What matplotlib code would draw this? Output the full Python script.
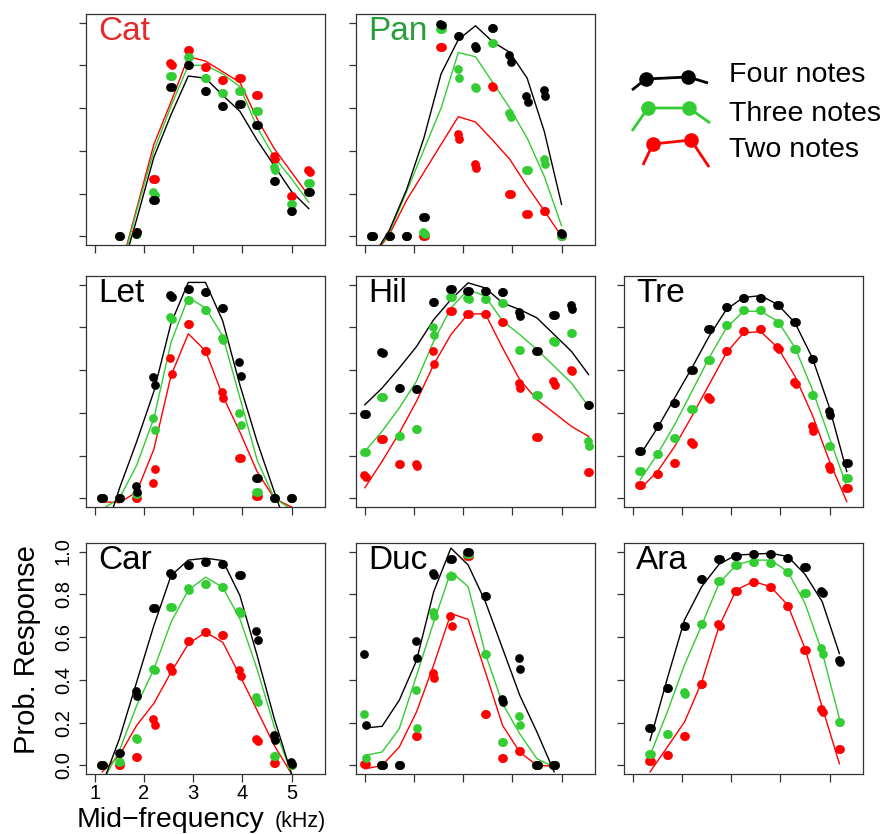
import numpy as np
import matplotlib.pyplot as plt

plt.rcParams['font.family'] = ['Liberation Sans', 'DejaVu Sans']

# ---- data (prob. response per mid-frequency, kHz) ----
# two replicate dots per frequency (a, b) + fitted curve for each note count
# k = four notes (black), g = three notes (green), r = two notes (red)

cat_freq = [1.5, 1.85, 2.2, 2.55, 2.9, 3.25, 3.6, 3.95, 4.3, 4.65, 5.0, 5.35]
cat_k_a = [0.00, 0.01, 0.17, 0.70, 0.80, 0.68, 0.61, 0.62, 0.52, 0.26, 0.12, 0.21]
cat_k_b = [0.00, 0.02, 0.17, 0.70, 0.80, 0.68, 0.61, 0.62, 0.52, 0.26, 0.12, 0.21]
cat_g_a = [0.00, 0.01, 0.21, 0.75, 0.84, 0.74, 0.67, 0.68, 0.585, 0.325, 0.15, 0.25]
cat_g_b = [0.00, 0.01, 0.195, 0.75, 0.84, 0.74, 0.67, 0.68, 0.585, 0.31, 0.15, 0.25]
cat_r_a = [0.00, 0.02, 0.27, 0.81, 0.87, 0.79, 0.73, 0.74, 0.66, 0.375, 0.19, 0.31]
cat_r_b = [0.00, 0.02, 0.27, 0.80, 0.87, 0.79, 0.73, 0.74, 0.66, 0.36, 0.19, 0.30]
cat_k_fit = [-0.20, 0.08, 0.37, 0.57, 0.75, 0.74, 0.66, 0.585, 0.45, 0.33, 0.21, 0.13]
cat_g_fit = [-0.18, 0.12, 0.40, 0.61, 0.80, 0.80, 0.76, 0.70, 0.51, 0.37, 0.27, 0.16]
cat_r_fit = [-0.17, 0.13, 0.43, 0.63, 0.84, 0.82, 0.77, 0.72, 0.55, 0.41, 0.30, 0.19]

pan_freq = [1.15, 1.5, 1.85, 2.2, 2.55, 2.9, 3.25, 3.6, 3.95, 4.3, 4.65, 5.0]
pan_k_a = [0, 0, 0, 0.09, 0.995, 0.936, 0.89, 0.975, 0.847, 0.655, 0.683, 0.016]
pan_k_b = [0, 0, 0, 0.09, 0.99, 0.936, 0.88, 0.975, 0.816, 0.63, 0.655, 0.01]
pan_g_a = [0, 0, 0, 0.02, 0.97, 0.785, 0.70, 0.905, 0.577, 0.31, 0.363, 0.0]
pan_g_b = [0, 0, 0, 0.01, 0.97, 0.74, 0.694, 0.905, 0.56, 0.31, 0.34, 0.0]
pan_r_a = [0, 0, 0, 0, 0.886, 0.48, 0.34, 0.705, 0.20, 0.105, 0.12, 0]
pan_r_b = [0, 0, 0, 0, 0.886, 0.457, 0.32, 0.70, 0.20, 0.105, 0.12, 0]
pan_k_fit = [-0.10, 0.03, 0.22, 0.46, 0.76, 0.92, 0.985, 0.91, 0.86, 0.74, 0.49, 0.15]
pan_g_fit = [-0.10, 0.02, 0.21, 0.405, 0.60, 0.86, 0.84, 0.72, 0.60, 0.46, 0.28, 0.05]
pan_r_fit = [-0.10, 0.01, 0.17, 0.30, 0.43, 0.56, 0.535, 0.45, 0.36, 0.235, 0.12, 0.0]

let_freq = [1.15, 1.5, 1.85, 2.2, 2.55, 2.9, 3.25, 3.6, 3.95, 4.3, 4.65, 5.0]
let_k_a = [0, 0, 0.06, 0.57, 0.95, 0.977, 0.966, 0.89, 0.636, 0.095, 0, 0]
let_k_b = [0, 0, 0.03, 0.53, 0.94, 0.977, 0.966, 0.89, 0.573, 0.095, 0, 0]
let_g_a = [0, 0, 0.02, 0.375, 0.85, 0.93, 0.88, 0.75, 0.40, 0.03, 0, 0]
let_g_b = [0, 0, 0.02, 0.32, 0.84, 0.93, 0.88, 0.74, 0.345, 0.03, 0, 0]
let_r_a = [0, 0, 0, 0.07, 0.657, 0.815, 0.69, 0.50, 0.19, 0.01, 0, 0]
let_r_b = [0, 0, 0, 0.137, 0.58, 0.815, 0.69, 0.47, 0.19, 0.01, 0, 0]
let_k_fit = [-0.20, 0.047, 0.265, 0.50, 0.82, 1.01, 1.01, 0.83, 0.53, 0.265, 0.03, -0.20]
let_g_fit = [-0.05, 0.0, 0.155, 0.375, 0.73, 0.94, 0.89, 0.76, 0.47, 0.18, 0.0, -0.05]
let_r_fit = [-0.015, -0.02, 0.03, 0.23, 0.575, 0.77, 0.69, 0.48, 0.31, 0.125, 0.0, -0.04]

hil_freq = [1.0, 1.35, 1.7, 2.05, 2.4, 2.75, 3.1, 3.45, 3.8, 4.15, 4.5, 4.85, 5.2, 5.55]
hil_k_a = [0.396, 0.683, 0.516, 0.51, 0.919, 0.977, 0.972, 0.972, 0.964, 0.872, 0.688, 0.86, 0.903, 0.435]
hil_k_b = [0.396, 0.68, 0.516, 0.51, 0.919, 0.977, 0.972, 0.972, 0.964, 0.852, 0.688, 0.86, 0.888, 0.435]
hil_g_a = [0.217, 0.474, 0.293, 0.326, 0.80, 0.942, 0.938, 0.934, 0.914, 0.693, 0.485, 0.738, 0.774, 0.267]
hil_g_b = [0.217, 0.474, 0.293, 0.326, 0.766, 0.942, 0.934, 0.934, 0.914, 0.693, 0.485, 0.73, 0.774, 0.243]
hil_r_a = [0.108, 0.28, 0.16, 0.162, 0.688, 0.878, 0.863, 0.863, 0.825, 0.54, 0.285, 0.548, 0.60, 0.123]
hil_r_b = [0.098, 0.28, 0.16, 0.153, 0.63, 0.878, 0.863, 0.863, 0.825, 0.516, 0.285, 0.532, 0.594, 0.123]
hil_k_fit = [0.438, 0.516, 0.61, 0.71, 0.836, 0.93, 1.008, 0.984, 0.914, 0.883, 0.844, 0.766, 0.688, 0.579]
hil_g_fit = [0.22, 0.314, 0.423, 0.548, 0.735, 0.89, 0.977, 0.945, 0.83, 0.766, 0.696, 0.618, 0.54, 0.43]
hil_r_fit = [0.05, 0.173, 0.306, 0.454, 0.626, 0.766, 0.863, 0.863, 0.704, 0.555, 0.462, 0.40, 0.337, 0.29]

tre_freq = [1.15, 1.5, 1.85, 2.2, 2.55, 2.9, 3.25, 3.6, 3.95, 4.3, 4.65, 5.0, 5.35]
tre_k_a = [0.22, 0.34, 0.446, 0.60, 0.79, 0.895, 0.938, 0.938, 0.906, 0.825, 0.652, 0.407, 0.165]
tre_k_b = [0.22, 0.34, 0.446, 0.60, 0.79, 0.895, 0.938, 0.938, 0.906, 0.825, 0.652, 0.39, 0.165]
tre_g_a = [0.126, 0.207, 0.282, 0.42, 0.646, 0.81, 0.883, 0.883, 0.82, 0.70, 0.485, 0.246, 0.095]
tre_g_b = [0.126, 0.207, 0.282, 0.42, 0.646, 0.81, 0.883, 0.883, 0.82, 0.70, 0.485, 0.246, 0.095]
tre_r_a = [0.064, 0.114, 0.165, 0.262, 0.474, 0.688, 0.785, 0.79, 0.707, 0.544, 0.34, 0.15, 0.05]
tre_r_b = [0.064, 0.114, 0.165, 0.254, 0.466, 0.688, 0.785, 0.79, 0.70, 0.537, 0.317, 0.139, 0.05]
tre_k_fit = [0.204, 0.33, 0.47, 0.61, 0.758, 0.883, 0.94, 0.948, 0.906, 0.82, 0.657, 0.423, 0.126]
tre_g_fit = [0.087, 0.207, 0.345, 0.50, 0.657, 0.797, 0.875, 0.875, 0.828, 0.704, 0.509, 0.282, 0.056]
tre_r_fit = [0.045, 0.126, 0.243, 0.384, 0.532, 0.68, 0.774, 0.78, 0.704, 0.57, 0.39, 0.173, -0.015]

car_freq = [1.15, 1.5, 1.85, 2.2, 2.55, 2.9, 3.25, 3.6, 3.95, 4.3, 4.65, 5.0]
car_k_a = [0.0, 0.06, 0.35, 0.737, 0.90, 0.938, 0.95, 0.942, 0.89, 0.628, 0.143, 0.016]
car_k_b = [0.0, 0.06, 0.327, 0.737, 0.892, 0.938, 0.95, 0.942, 0.89, 0.587, 0.12, 0.008]
car_g_a = [0.0, 0.015, 0.13, 0.45, 0.74, 0.828, 0.846, 0.836, 0.724, 0.322, 0.044, 0.0]
car_g_b = [0.0, 0.015, 0.125, 0.444, 0.74, 0.822, 0.846, 0.836, 0.713, 0.296, 0.044, 0.0]
car_r_a = [0.0, 0.003, 0.04, 0.215, 0.46, 0.584, 0.623, 0.61, 0.444, 0.125, 0.012, 0.0]
car_r_b = [0.0, 0.003, 0.04, 0.187, 0.44, 0.584, 0.623, 0.61, 0.42, 0.112, 0.012, 0.0]
car_k_fit = [-0.09, 0.125, 0.39, 0.654, 0.888, 0.96, 0.969, 0.958, 0.794, 0.514, 0.218, -0.04]
car_g_fit = [-0.08, 0.07, 0.28, 0.45, 0.67, 0.82, 0.88, 0.833, 0.685, 0.45, 0.18, -0.04]
car_r_fit = [-0.03, 0.047, 0.187, 0.29, 0.436, 0.568, 0.623, 0.576, 0.42, 0.257, 0.093, -0.04]

duc_freq = [1.0, 1.35, 1.7, 2.05, 2.4, 2.75, 3.1, 3.45, 3.8, 4.15, 4.5, 4.85]
duc_k_a = [0.52, 0.0, 0.0, 0.58, 0.898, 0.966, 1.0, 0.79, 0.3125, 0.503, 0.0, 0.0]
duc_k_b = [0.19, 0.0, 0.0, 0.503, 0.89, 0.966, 1.0, 0.79, 0.297, 0.45, 0.0, 0.0]
duc_g_a = [0.242, 0.0, 0.0, 0.355, 0.716, 0.8875, 0.99, 0.523, 0.11, 0.23, 0.0, 0.0]
duc_g_b = [0.036, 0.0, 0.0, 0.175, 0.70, 0.8875, 0.99, 0.523, 0.11, 0.19, 0.0, 0.0]
duc_r_a = [0.008, 0.0, 0.0, 0.137, 0.43, 0.70, 0.977, 0.242, 0.036, 0.066, 0.0, 0.0]
duc_r_b = [0.008, 0.0, 0.0, 0.137, 0.41, 0.653, 0.977, 0.242, 0.036, 0.066, 0.0, 0.0]
duc_k_fit = [0.175, 0.183, 0.305, 0.49, 0.8125, 1.016, 0.9375, 0.766, 0.547, 0.328, 0.156, -0.03]
duc_g_fit = [0.047, 0.0625, 0.172, 0.42, 0.67, 0.906, 0.836, 0.523, 0.289, 0.148, 0.031, -0.008]
duc_r_fit = [-0.016, 0.0, 0.086, 0.25, 0.47, 0.71, 0.683, 0.4375, 0.1875, 0.0625, 0.0, -0.003]

ara_freq = [1.35, 1.7, 2.05, 2.4, 2.75, 3.1, 3.45, 3.8, 4.15, 4.5, 4.85, 5.2]
ara_k_a = [0.175, 0.36, 0.65, 0.872, 0.964, 0.98, 0.9875, 0.9875, 0.97, 0.93, 0.817, 0.495]
ara_k_b = [0.175, 0.36, 0.65, 0.872, 0.964, 0.98, 0.9875, 0.9875, 0.97, 0.93, 0.808, 0.484]
ara_g_a = [0.055, 0.148, 0.344, 0.66, 0.8625, 0.9375, 0.953, 0.945, 0.906, 0.808, 0.547, 0.203]
ara_g_b = [0.055, 0.148, 0.336, 0.66, 0.8625, 0.9375, 0.953, 0.945, 0.906, 0.808, 0.523, 0.203]
ara_r_a = [0.019, 0.047, 0.14, 0.383, 0.66, 0.817, 0.856, 0.833, 0.745, 0.542, 0.266, 0.075]
ara_r_b = [0.019, 0.047, 0.14, 0.383, 0.653, 0.817, 0.856, 0.833, 0.745, 0.542, 0.25, 0.075]
ara_k_fit = [0.117, 0.406, 0.68, 0.836, 0.94, 0.984, 0.9875, 0.992, 0.977, 0.894, 0.766, 0.523]
ara_g_fit = [0.047, 0.25, 0.47, 0.656, 0.85, 0.9375, 0.96, 0.96, 0.906, 0.758, 0.53, 0.22]
ara_r_fit = [-0.03, 0.086, 0.203, 0.39, 0.648, 0.82, 0.86, 0.836, 0.75, 0.547, 0.273, 0.008]

legend_labels = ['Four notes', 'Three notes', 'Two notes']

BLACK, GREEN, RED = '#000000', '#33CC33', '#FF0000'

# name, column, row, label colour, freqs, (red, green, black) series
panels = [
    ('Cat', 0, 0, '#E32B2B', cat_freq, [(cat_r_a, cat_r_b, cat_r_fit), (cat_g_a, cat_g_b, cat_g_fit), (cat_k_a, cat_k_b, cat_k_fit)]),
    ('Pan', 1, 0, '#2A9D3A', pan_freq, [(pan_r_a, pan_r_b, pan_r_fit), (pan_g_a, pan_g_b, pan_g_fit), (pan_k_a, pan_k_b, pan_k_fit)]),
    ('Let', 0, 1, 'black', let_freq, [(let_r_a, let_r_b, let_r_fit), (let_g_a, let_g_b, let_g_fit), (let_k_a, let_k_b, let_k_fit)]),
    ('Hil', 1, 1, 'black', hil_freq, [(hil_r_a, hil_r_b, hil_r_fit), (hil_g_a, hil_g_b, hil_g_fit), (hil_k_a, hil_k_b, hil_k_fit)]),
    ('Tre', 2, 1, 'black', tre_freq, [(tre_r_a, tre_r_b, tre_r_fit), (tre_g_a, tre_g_b, tre_g_fit), (tre_k_a, tre_k_b, tre_k_fit)]),
    ('Car', 0, 2, 'black', car_freq, [(car_r_a, car_r_b, car_r_fit), (car_g_a, car_g_b, car_g_fit), (car_k_a, car_k_b, car_k_fit)]),
    ('Duc', 1, 2, 'black', duc_freq, [(duc_r_a, duc_r_b, duc_r_fit), (duc_g_a, duc_g_b, duc_g_fit), (duc_k_a, duc_k_b, duc_k_fit)]),
    ('Ara', 2, 2, 'black', ara_freq, [(ara_r_a, ara_r_b, ara_r_fit), (ara_g_a, ara_g_b, ara_g_fit), (ara_k_a, ara_k_b, ara_k_fit)]),
]

W, H = 882, 834
fig = plt.figure(figsize=(W / 100, H / 100), dpi=100)

col_left = [86, 356, 624]
row_top = [14, 276, 543]
pw, ph = 239, 231
spine_col = '#333333'

for name, c, r, lab_col, freq, series in panels:
    ax = fig.add_axes([col_left[c] / W, 1 - (row_top[r] + ph) / H, pw / W, ph / H])
    f = np.array(freq)
    for (a, b, fit), col in zip(series, [RED, GREEN, BLACK]):
        ax.plot(f, fit, color=col, lw=1.0, zorder=2)
        ax.plot(f - 0.015, a, 'o', ms=6.3, color=col, mec='none', zorder=3)
        ax.plot(f + 0.015, b, 'o', ms=6.3, color=col, mec='none', zorder=3)
    ax.set_xlim(0.82, 5.68)
    ax.set_ylim(-0.04, 1.04)
    ax.set_xticks([1, 2, 3, 4, 5])
    ax.set_yticks([0.0, 0.2, 0.4, 0.6, 0.8, 1.0])
    ax.tick_params(direction='out', length=5.4, width=0.9, color=spine_col, labelsize=14.5)
    ax.tick_params(axis='y', labelrotation=90, pad=4)
    ax.tick_params(axis='x', pad=2)
    for sp in ax.spines.values():
        sp.set_color(spine_col)
        sp.set_linewidth(0.9)
    if name == 'Car':
        ax.set_yticklabels(['0.0', '0.2', '0.4', '0.6', '0.8', '1.0'], va='center')
    else:
        ax.set_xticklabels([])
        ax.set_yticklabels([])
    ax.text(0.05, 0.887, name, transform=ax.transAxes, fontsize=24,
            color=lab_col, ha='left', va='baseline')

# legend drawn as little two-dot "note" glyphs
leg = fig.add_axes([0, 0, 1, 1])
leg.set_xlim(0, W)
leg.set_ylim(H, 0)
leg.axis('off')
glyph_x = [[632, 646, 688, 708], [632, 648, 689, 710], [643, 653, 691, 709]]
glyph_y = [[90, 79, 77, 83], [131, 108, 108, 123], [165, 144, 140, 167]]
text_y = [75, 114, 150]
for lab, col, gx, gy, ty in zip(legend_labels, [BLACK, GREEN, RED], glyph_x, glyph_y, text_y):
    leg.plot(gx, gy, color=col, lw=2, solid_capstyle='butt')
    leg.plot(gx[1:3], gy[1:3], 'o', ms=10.5, color=col, mec='none')
    leg.text(729, ty, lab, fontsize=20.5, ha='left', va='center')

fig.text(27 / W, 1 - 650 / H, 'Prob. Response', rotation=90, fontsize=21,
         ha='center', va='center')
fig.text(77 / W, 1 - 827 / H, 'Mid\u2212frequency', fontsize=20.5, ha='left', va='baseline')
fig.text(275 / W, 1 - 827 / H, '(kHz)', fontsize=15.5, ha='left', va='baseline')

fig.savefig('out.png', dpi=100)
